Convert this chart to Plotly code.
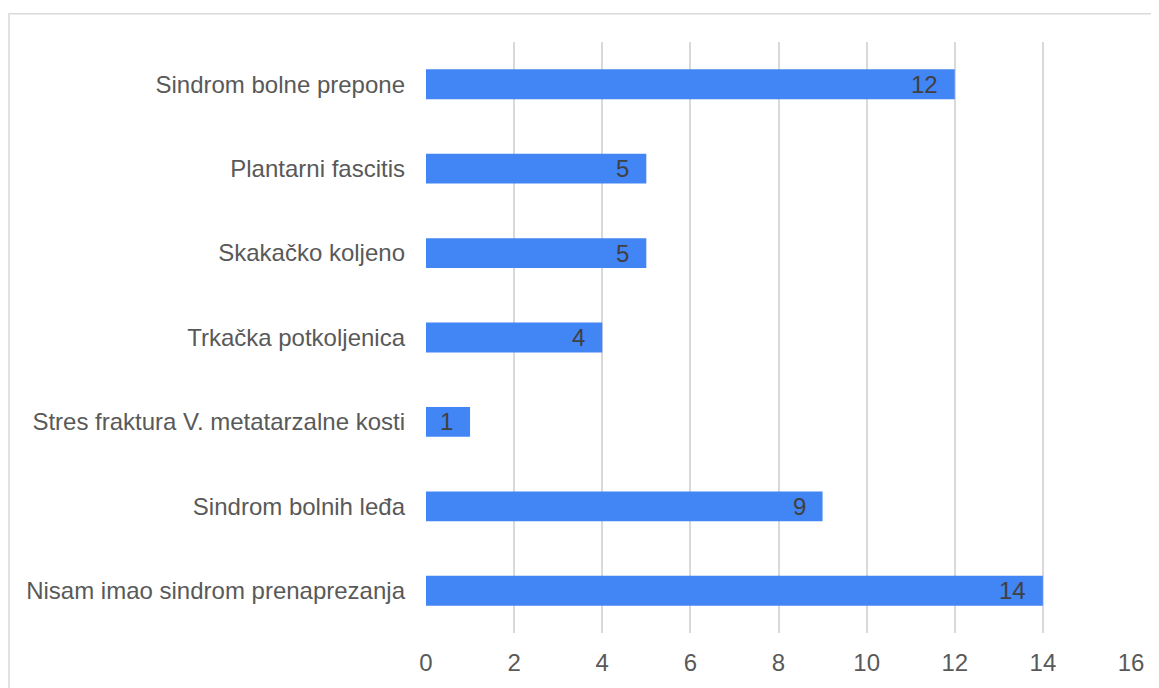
import plotly.graph_objects as go

categories = [
    "Sindrom bolne prepone",
    "Plantarni fascitis",
    "Skakačko koljeno",
    "Trkačka potkoljenica",
    "Stres fraktura V. metatarzalne kosti",
    "Sindrom bolnih leđa",
    "Nisam imao sindrom prenaprezanja",
]
values = [12, 5, 5, 4, 1, 9, 14]
x_ticks = [0, 2, 4, 6, 8, 10, 12, 14, 16]

FONT = "Liberation Sans, Arial, sans-serif"
FS = 24

fig = go.Figure()
fig.add_trace(go.Bar(
    x=values, y=categories, orientation="h",
    marker=dict(color="#4285F4", line=dict(width=0)),
    hoverinfo="skip",
))

for c, v in zip(categories, values):
    fig.add_annotation(
        x=v, y=c, xref="x", yref="y", text=str(v), showarrow=False,
        xanchor="right", xshift=-15,
        font=dict(family=FONT, size=FS, color="#404040"),
    )

fig.add_shape(
    type="rect", xref="paper", yref="paper",
    x0=-0.5915, x1=1.2, y0=-0.3, y1=1.048,
    line=dict(color="#d9d9d9", width=1.5), fillcolor="rgba(0,0,0,0)",
    layer="below",
)

fig.update_layout(
    width=1151, height=680,
    margin=dict(l=418, r=28, t=34, b=52),
    paper_bgcolor="white", plot_bgcolor="white",
    bargap=0.646,
    showlegend=False,
    font=dict(family=FONT, size=FS, color="#595959"),
    xaxis=dict(
        range=[0, 16], tickvals=x_ticks, ticktext=[str(t) for t in x_ticks],
        showgrid=True, gridcolor="#d9d9d9", gridwidth=1.5,
        zeroline=False, showline=False, ticks="", ticklabelstandoff=13,
        tickfont=dict(family=FONT, size=FS, color="#595959"),
    ),
    yaxis=dict(
        autorange="reversed", showgrid=False, zeroline=False, showline=False,
        ticks="", ticklabelstandoff=20,
        tickfont=dict(family=FONT, size=FS, color="#595959"),
    ),
)

fig.write_html("out.html")
